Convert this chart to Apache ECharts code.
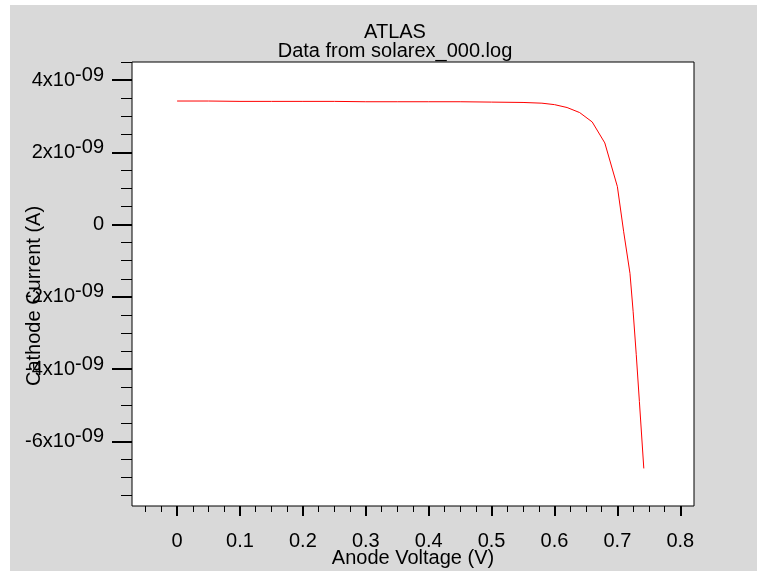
<!DOCTYPE html>
<html>
<head>
<meta charset="utf-8">
<script src="https://cdn.jsdelivr.net/npm/echarts@6/dist/echarts.min.js"></script>
<style>
html,body{margin:0;padding:0;background:#fff;}
#chart{width:757px;height:571px;}
</style>
</head>
<body>
<div id="chart"></div>
<script>
// ---- data ----
var voltage = [0, 0.05, 0.1, 0.15, 0.2, 0.25, 0.3, 0.35, 0.4, 0.45, 0.5, 0.55, 0.58, 0.6, 0.62, 0.64, 0.66, 0.68, 0.7, 0.71, 0.72, 0.725, 0.73, 0.735, 0.742];
var current = [3.42e-9, 3.42e-9, 3.41e-9, 3.41e-9, 3.41e-9, 3.41e-9, 3.40e-9, 3.40e-9, 3.40e-9, 3.40e-9, 3.39e-9, 3.38e-9, 3.36e-9, 3.32e-9, 3.24e-9, 3.10e-9, 2.84e-9, 2.26e-9, 1.05e-9, -0.20e-9, -1.35e-9, -2.40e-9, -3.60e-9, -4.90e-9, -6.75e-9];

var xMajorTicks = [0, 0.1, 0.2, 0.3, 0.4, 0.5, 0.6, 0.7, 0.8];
var xMinorTicks = [-0.05, -0.025, 0.025, 0.05, 0.075, 0.125, 0.15, 0.175, 0.225, 0.25, 0.275, 0.325, 0.35, 0.375, 0.425, 0.45, 0.475, 0.525, 0.55, 0.575, 0.625, 0.65, 0.675, 0.725, 0.75, 0.775];
var yMajorTicks = [-6e-9, -4e-9, -2e-9, 0, 2e-9, 4e-9];
var yMinorTicks = [-7.5e-9, -7e-9, -6.5e-9, -5.5e-9, -5e-9, -4.5e-9, -3.5e-9, -3e-9, -2.5e-9, -1.5e-9, -1e-9, -0.5e-9, 0.5e-9, 1e-9, 1.5e-9, 2.5e-9, 3e-9, 3.5e-9, 4.5e-9];

var titleText = 'ATLAS';
var subtitleText = 'Data from solarex_000.log';
var xName = 'Anode Voltage (V)';
var yName = 'Cathode Current (A)';

// ---- chart ----
var FONT = '"Liberation Sans", Arial, sans-serif';
var chart = echarts.init(document.getElementById('chart'), null, {renderer: 'canvas'});

var xr = [-0.0717, 0.8218];
var yr = [-7.79e-9, 4.5e-9];

function yFmt(v) {
  var m = Math.round(v / 1e-9);
  if (m === 0) return '{m|0}';
  return '{m|' + m + 'x10}{s|-09}';
}

var option = {
  backgroundColor: '#ffffff',
  animation: false,
  graphic: [{
    type: 'rect', z: -100, silent: true,
    shape: {x: 10, y: 5, width: 747, height: 566},
    style: {fill: '#d9d9d9'}
  }],
  title: {
    text: titleText + '\n' + subtitleText,
    left: 390, top: 18, textAlign: 'center',
    textStyle: {fontFamily: FONT, fontSize: 20, fontWeight: 'normal', color: '#000', lineHeight: 19}
  },
  grid: {
    left: 132, top: 62, right: 63, bottom: 65,
    containLabel: false, outerBoundsMode: 'none',
    show: true, backgroundColor: '#ffffff', borderColor: '#000', borderWidth: 1
  },
  xAxis: [{
    type: 'value', min: xr[0], max: xr[1], position: 'bottom',
    name: xName, nameLocation: 'middle', nameGap: 42, nameMoveOverlap: false,
    nameTextStyle: {fontFamily: FONT, fontSize: 20, color: '#000'},
    axisLine: {show: false, onZero: false},
    splitLine: {show: false},
    axisTick: {show: true, customValues: xMajorTicks, length: 10, lineStyle: {color: '#000', width: 2}},
    axisLabel: {customValues: xMajorTicks, margin: 25, fontFamily: FONT, fontSize: 20, color: '#000',
      formatter: function (v) { return String(+v.toFixed(2)); }}
  }, {
    type: 'value', min: xr[0], max: xr[1], position: 'bottom', gridIndex: 0,
    axisLine: {show: false, onZero: false}, splitLine: {show: false},
    axisTick: {show: true, customValues: xMinorTicks, length: 6, lineStyle: {color: '#000', width: 1}},
    axisLabel: {show: false}
  }],
  yAxis: [{
    type: 'value', min: yr[0], max: yr[1], position: 'left',
    name: yName, nameLocation: 'middle', nameGap: 88, nameMoveOverlap: false,
    nameTextStyle: {fontFamily: FONT, fontSize: 20, color: '#000', padding: [0, 24, 0, 0]},
    axisLine: {show: false, onZero: false},
    splitLine: {show: false},
    axisTick: {show: true, customValues: yMajorTicks, length: 20, lineStyle: {color: '#000', width: 2}},
    axisLabel: {customValues: yMajorTicks, margin: 28, color: '#000', formatter: yFmt,
      rich: {
        m: {fontFamily: FONT, fontSize: 20, color: '#000'},
        s: {fontFamily: FONT, fontSize: 20, color: '#000', padding: [0, 0, 10, 0]}
      }}
  }, {
    type: 'value', min: yr[0], max: yr[1], position: 'left', gridIndex: 0,
    axisLine: {show: false, onZero: false}, splitLine: {show: false},
    axisTick: {show: true, customValues: yMinorTicks, length: 11, lineStyle: {color: '#000', width: 1}},
    axisLabel: {show: false}
  }],
  series: [{
    type: 'line',
    xAxisIndex: 0, yAxisIndex: 0,
    data: voltage.map(function (v, i) { return [v, current[i]]; }),
    showSymbol: false, symbol: 'none',
    lineStyle: {color: '#ff0000', width: 1},
    clip: true
  }]
};
chart.setOption(option);
</script>
</body>
</html>
